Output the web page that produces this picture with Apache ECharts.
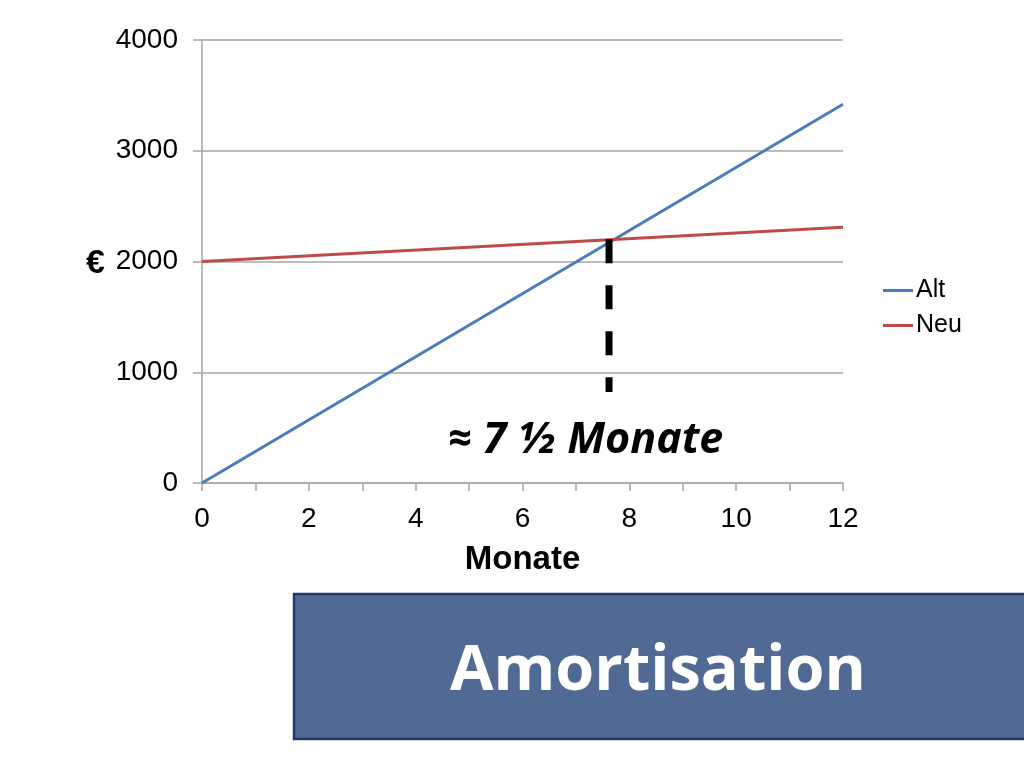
<!DOCTYPE html>
<html><head><meta charset="utf-8">
<script src="https://cdn.jsdelivr.net/npm/echarts@6/dist/echarts.min.js"></script>
<style>html,body{margin:0;padding:0;background:#fff}#c{width:1024px;height:768px}</style>
</head><body><div id="c"></div>
<script>
var monthsAlt = [0, 12];
var valuesAlt = [0, 3420];
var monthsNeu = [0, 12];
var valuesNeu = [2000, 2310];
var breakEvenMonth = 7.62;
var breakEvenRange = [822, 2200];
var yTicks = [0, 1000, 2000, 3000, 4000];
var xTicks = [0, 2, 4, 6, 8, 10, 12];

var chart = echarts.init(document.getElementById('c'));
var font = 'Liberation Sans, Arial, sans-serif';
chart.setOption({
  animation: false,
  grid: {left: 202, right: 181, top: 40, bottom: 285},
  legend: {
    orient: 'vertical', left: 878, top: 273, itemWidth: 30, itemHeight: 3, itemGap: 10,
    icon: 'rect',
    textStyle: {fontFamily: font, fontSize: 25, color: '#000', padding: [0,0,0,-2]},
    data: ['Alt', 'Neu']
  },
  xAxis: {
    type: 'value', min: xTicks[0], max: xTicks[xTicks.length-1], interval: 2,
    name: 'Monate', nameLocation: 'middle', nameGap: 60,
    nameTextStyle: {fontFamily: font, fontSize: 33, fontWeight: 'bold', color: '#000'},
    axisLine: {lineStyle: {color: '#a6a6a6', width: 1.5}},
    axisTick: {show: true, length: 8, lineStyle: {color: '#a6a6a6', width: 1.5}},
    minorTick: {show: true, splitNumber: 2, length: 8, lineStyle: {color: '#a6a6a6', width: 1.5}},
    axisLabel: {fontFamily: font, fontSize: 28, color: '#000', margin: 22},
    splitLine: {show: false}
  },
  yAxis: {
    type: 'value', min: yTicks[0], max: yTicks[yTicks.length-1], interval: 1000,
    axisLine: {show: true, lineStyle: {color: '#a6a6a6', width: 1.5}},
    axisTick: {show: true, length: 9, lineStyle: {color: '#a6a6a6', width: 1.5}},
    axisLabel: {fontFamily: font, fontSize: 28, color: '#000', margin: 24,
      formatter: function(v){return String(v);}},
    splitLine: {show: true, lineStyle: {color: '#a6a6a6', width: 1.5}}
  },
  series: [
    {name: 'Alt', type: 'line', symbol: 'none', color: '#4a7ebb',
     lineStyle: {width: 3, color: '#4a7ebb'},
     data: monthsAlt.map(function(m,i){return [m, valuesAlt[i]];})},
    {name: 'Neu', type: 'line', symbol: 'none', color: '#be4b48',
     lineStyle: {width: 3, color: '#be4b48'},
     data: monthsNeu.map(function(m,i){return [m, valuesNeu[i]];})},
    {name: 'breakeven', type: 'line', symbol: 'none', z: 5,
     lineStyle: {width: 7, color: '#000', type: [24, 22], cap: 'butt'},
     data: breakEvenRange.slice().reverse().map(function(v){return [breakEvenMonth, v];})}
  ],
  graphic: [
    {type: 'text', left: 86, top: 247, style: {text: '€', font: 'bold 34px ' + font, fill: '#000'}},
    {type: 'text', left: 448, top: 419, style: {text: '≈ 7 ½ Monate', font: 'italic bold 43px "Open Sans", sans-serif', fill: '#000'}},
    {type: 'rect', shape: {x: 294, y: 594, width: 740, height: 145},
     style: {fill: '#506a94', stroke: '#22396b', lineWidth: 2.5}},
    {type: 'text', left: 450, top: 641, style: {text: 'Amortisation', font: 'bold 63px "Open Sans", sans-serif', fill: '#fff'}}
  ]
});
</script></body></html>
